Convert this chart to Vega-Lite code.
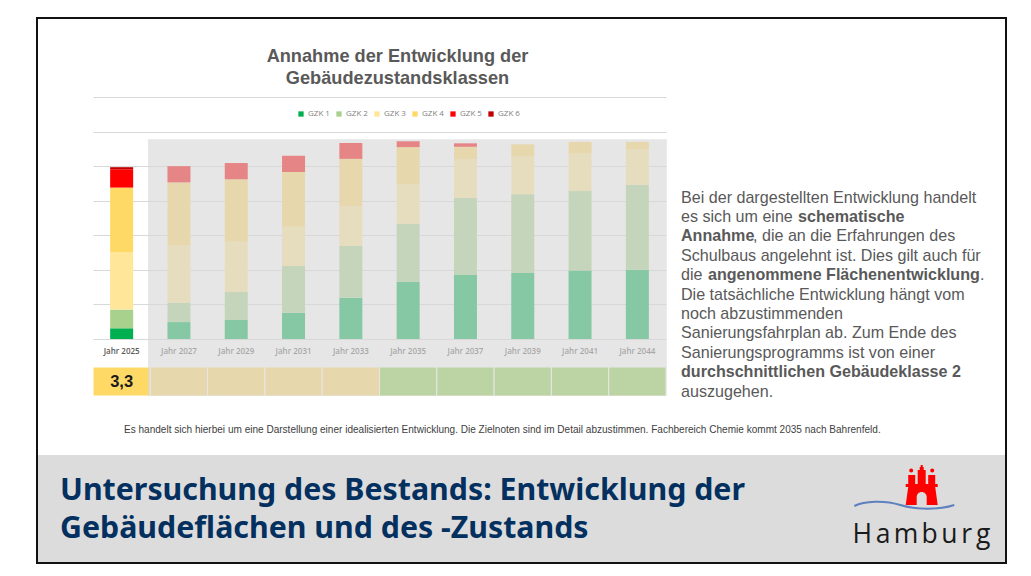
{
"$schema":"https://vega.github.io/schema/vega-lite/v6.json",
"autosize":{"type":"none"},
"padding":{"left":93,"top":97,"right":365,"bottom":237},
"width":573,"height":242,
"background":"white",
"config":{"view":{"stroke":null}},
"title":{"text":["Annahme der Entwicklung der","Gebäudezustandsklassen"],"font":"Liberation Sans","fontSize":18.2,"fontWeight":"bold","color":"#595959","anchor":"middle","dx":18,"offset":-71,"lineHeight":22},
"datasets":{
"bestand":[
{"jahr":"Jahr 2025","gzk":"GZK 1","flaeche":31},{"jahr":"Jahr 2025","gzk":"GZK 2","flaeche":54},{"jahr":"Jahr 2025","gzk":"GZK 3","flaeche":167},{"jahr":"Jahr 2025","gzk":"GZK 4","flaeche":186},{"jahr":"Jahr 2025","gzk":"GZK 5","flaeche":53},{"jahr":"Jahr 2025","gzk":"GZK 6","flaeche":6},
{"jahr":"Jahr 2027","gzk":"GZK 1","flaeche":49},{"jahr":"Jahr 2027","gzk":"GZK 2","flaeche":56},{"jahr":"Jahr 2027","gzk":"GZK 3","flaeche":167},{"jahr":"Jahr 2027","gzk":"GZK 4","flaeche":181},{"jahr":"Jahr 2027","gzk":"GZK 5","flaeche":47},
{"jahr":"Jahr 2029","gzk":"GZK 1","flaeche":55},{"jahr":"Jahr 2029","gzk":"GZK 2","flaeche":81},{"jahr":"Jahr 2029","gzk":"GZK 3","flaeche":145},{"jahr":"Jahr 2029","gzk":"GZK 4","flaeche":181},{"jahr":"Jahr 2029","gzk":"GZK 5","flaeche":47},
{"jahr":"Jahr 2031","gzk":"GZK 1","flaeche":76},{"jahr":"Jahr 2031","gzk":"GZK 2","flaeche":135},{"jahr":"Jahr 2031","gzk":"GZK 3","flaeche":114},{"jahr":"Jahr 2031","gzk":"GZK 4","flaeche":158},{"jahr":"Jahr 2031","gzk":"GZK 5","flaeche":47},
{"jahr":"Jahr 2033","gzk":"GZK 1","flaeche":119},{"jahr":"Jahr 2033","gzk":"GZK 2","flaeche":150},{"jahr":"Jahr 2033","gzk":"GZK 3","flaeche":114},{"jahr":"Jahr 2033","gzk":"GZK 4","flaeche":138},{"jahr":"Jahr 2033","gzk":"GZK 5","flaeche":46},
{"jahr":"Jahr 2035","gzk":"GZK 1","flaeche":165},{"jahr":"Jahr 2035","gzk":"GZK 2","flaeche":168},{"jahr":"Jahr 2035","gzk":"GZK 3","flaeche":115},{"jahr":"Jahr 2035","gzk":"GZK 4","flaeche":107},{"jahr":"Jahr 2035","gzk":"GZK 5","flaeche":17},
{"jahr":"Jahr 2037","gzk":"GZK 1","flaeche":185},{"jahr":"Jahr 2037","gzk":"GZK 2","flaeche":223},{"jahr":"Jahr 2037","gzk":"GZK 3","flaeche":112},{"jahr":"Jahr 2037","gzk":"GZK 4","flaeche":36},{"jahr":"Jahr 2037","gzk":"GZK 5","flaeche":10},
{"jahr":"Jahr 2039","gzk":"GZK 1","flaeche":191},{"jahr":"Jahr 2039","gzk":"GZK 2","flaeche":228},{"jahr":"Jahr 2039","gzk":"GZK 3","flaeche":110},{"jahr":"Jahr 2039","gzk":"GZK 4","flaeche":34},
{"jahr":"Jahr 2041","gzk":"GZK 1","flaeche":198},{"jahr":"Jahr 2041","gzk":"GZK 2","flaeche":230},{"jahr":"Jahr 2041","gzk":"GZK 3","flaeche":108},{"jahr":"Jahr 2041","gzk":"GZK 4","flaeche":34},
{"jahr":"Jahr 2044","gzk":"GZK 1","flaeche":200},{"jahr":"Jahr 2044","gzk":"GZK 2","flaeche":246},{"jahr":"Jahr 2044","gzk":"GZK 3","flaeche":103},{"jahr":"Jahr 2044","gzk":"GZK 4","flaeche":21}
],
"noten":[
{"jahr":"Jahr 2025","stufe":"Stufe 3","note":"3,3"},
{"jahr":"Jahr 2027","stufe":"Stufe 3"},{"jahr":"Jahr 2029","stufe":"Stufe 3"},{"jahr":"Jahr 2031","stufe":"Stufe 3"},{"jahr":"Jahr 2033","stufe":"Stufe 3"},
{"jahr":"Jahr 2035","stufe":"Stufe 2"},{"jahr":"Jahr 2037","stufe":"Stufe 2"},{"jahr":"Jahr 2039","stufe":"Stufe 2"},{"jahr":"Jahr 2041","stufe":"Stufe 2"},{"jahr":"Jahr 2044","stufe":"Stufe 2"}
],
"absatz":[
{"zeile":1,"teil":"a","text":"Bei der dargestellten Entwicklung handelt"},
{"zeile":2,"teil":"a","text":"es sich um eine"},
{"zeile":2,"teil":"b","text":"schematische"},
{"zeile":3,"teil":"f","text":"Annahme"},
{"zeile":3,"teil":"c","text":", die an die Erfahrungen des"},
{"zeile":4,"teil":"a","text":"Schulbaus angelehnt ist. Dies gilt auch für"},
{"zeile":5,"teil":"a","text":"die"},
{"zeile":5,"teil":"d","text":"angenommene Flächenentwicklung"},
{"zeile":5,"teil":"e","text":"."},
{"zeile":6,"teil":"a","text":"Die tatsächliche Entwicklung hängt vom"},
{"zeile":7,"teil":"a","text":"noch abzustimmenden"},
{"zeile":8,"teil":"a","text":"Sanierungsfahrplan ab. Zum Ende des"},
{"zeile":9,"teil":"a","text":"Sanierungsprogramms ist von einer"},
{"zeile":10,"teil":"f","text":"durchschnittlichen Gebäudeklasse 2"},
{"zeile":11,"teil":"a","text":"auszugehen."}
]
},
"resolve":{"scale":{"x":"independent","y":"independent"}},
"layer":[
{"layer":[
{"data":{"values":[{"teil":"Fussband"}]},"mark":{"type":"rect","fill":"#DCDCDC"},
"encoding":{"x":{"datum":38,"type":"quantitative","scale":{"domain":[0,1031],"range":[-93,938]},"axis":null},"x2":{"datum":1005},"y":{"datum":455,"type":"quantitative","scale":{"domain":[0,576],"range":[-97,479]},"axis":null},"y2":{"datum":562}}},
{"data":{"values":[{"teil":"Folie"}]},"mark":{"type":"rect","fillOpacity":0,"fill":"white","stroke":"#111111","strokeWidth":2},
"encoding":{"x":{"datum":37,"type":"quantitative","scale":{"domain":[0,1031],"range":[-93,938]},"axis":null},"x2":{"datum":1006},"y":{"datum":18,"type":"quantitative","scale":{"domain":[0,576],"range":[-97,479]},"axis":null},"y2":{"datum":563}}},
{"data":{"values":[{"text":"Es handelt sich hierbei um eine Darstellung einer idealisierten Entwicklung. Die Zielnoten sind im Detail abzustimmen. Fachbereich Chemie kommt 2035 nach Bahrenfeld."}]},
"mark":{"type":"text","font":"Liberation Sans","fontSize":10.05,"color":"#404040","align":"left","baseline":"middle"},
"encoding":{"text":{"field":"text"},"x":{"datum":124,"type":"quantitative","scale":{"domain":[0,1031],"range":[-93,938]},"axis":null},"y":{"datum":430,"type":"quantitative","scale":{"domain":[0,576],"range":[-97,479]},"axis":null}}},
{"data":{"values":[{"text":"Untersuchung des Bestands: Entwicklung der"}]},
"mark":{"type":"text","font":"Noto Sans","fontWeight":"bold","fontSize":30.3,"color":"#03305F","align":"left","baseline":"middle"},
"encoding":{"text":{"field":"text"},"x":{"datum":60,"type":"quantitative","scale":{"domain":[0,1031],"range":[-93,938]},"axis":null},"y":{"datum":490.5,"type":"quantitative","scale":{"domain":[0,576],"range":[-97,479]},"axis":null}}},
{"data":{"values":[{"text":"Gebäudeflächen und des -Zustands"}]},
"mark":{"type":"text","font":"Noto Sans","fontWeight":"bold","fontSize":30.3,"color":"#03305F","align":"left","baseline":"middle"},
"encoding":{"text":{"field":"text"},"x":{"datum":60,"type":"quantitative","scale":{"domain":[0,1031],"range":[-93,938]},"axis":null},"y":{"datum":528.5,"type":"quantitative","scale":{"domain":[0,576],"range":[-97,479]},"axis":null}}},
{"data":{"values":[{"teil":"Wappen"}]},
"mark":{"type":"point","filled":true,"opacity":1,"size":4,"color":"#FF0000","strokeWidth":0,"shape":"M-16-1H16V2H13.5L16 20H5V12A5 5 0 0 0-5 12V20H-16L-13.5 2H-16Z M-13.5-1V-10H-6.5V-1Z M6.5-1V-10H13.5V-1Z M-4-1V-15H-2V-18H-1V-20H1V-18H2V-15H4V-1Z M-12.5-14.5A2 2 0 1 0-8.5-14.5A2 2 0 1 0-12.5-14.5Z M8.5-14.5A2 2 0 1 0 12.5-14.5A2 2 0 1 0 8.5-14.5Z"},
"encoding":{"x":{"datum":921.7,"type":"quantitative","scale":{"domain":[0,1031],"range":[-93,938]},"axis":null},"y":{"datum":485,"type":"quantitative","scale":{"domain":[0,576],"range":[-97,479]},"axis":null}}},
{"data":{"values":[{"teil":"Welle"}]},
"mark":{"type":"point","filled":false,"opacity":1,"size":4,"stroke":"#5F80BE","strokeWidth":2,"shape":"M-50 1C-40-4-20-5-4 0S35 5 50 0"},
"encoding":{"x":{"datum":904.3,"type":"quantitative","scale":{"domain":[0,1031],"range":[-93,938]},"axis":null},"y":{"datum":505,"type":"quantitative","scale":{"domain":[0,576],"range":[-97,479]},"axis":null}}}
]},
{"data":{"values":[{"zeichen":"H","stelle":1},{"zeichen":"a","stelle":2},{"zeichen":"m","stelle":3},{"zeichen":"b","stelle":4},{"zeichen":"u","stelle":5},{"zeichen":"r","stelle":6},{"zeichen":"g","stelle":7}]},
"mark":{"type":"text","font":"Open Sans","fontSize":26.5,"color":"#1A1A1A","align":"center","baseline":"middle"},
"encoding":{"text":{"field":"zeichen"},"x":{"field":"stelle","type":"quantitative","scale":{"domain":[1,2,3,4,5,6,7],"range":[769.2,790.2,813,836.6,856.4,873.7,890.3]},"axis":null},"y":{"datum":535,"type":"quantitative","scale":{"domain":[0,576],"range":[-97,479]},"axis":null}}},
{"layer":[
{"data":{"name":"bestand"},"mark":{"type":"bar","size":23},
"encoding":{
"x":{"field":"jahr","type":"nominal","sort":null,"scale":{"domain":["Jahr 2025","Jahr 2027","Jahr 2029","Jahr 2031","Jahr 2033","Jahr 2035","Jahr 2037","Jahr 2039","Jahr 2041","Jahr 2044"],"paddingInner":0,"paddingOuter":0},
"axis":{"title":null,"domain":false,"ticks":false,"labelAngle":0,"labelFont":"Open Sans","labelFontSize":8,"labelFontWeight":600,"labelColor":"#595959","labelPadding":8,"grid":false}},
"y":{"field":"flaeche","type":"quantitative","stack":"zero","scale":{"domain":[0,700],"nice":false},
"axis":{"title":null,"domain":false,"ticks":false,"labels":false,"tickCount":8,"grid":true,"gridColor":"#D9D9D9","gridWidth":1}},
"color":{"field":"gzk","type":"nominal","scale":{"domain":["GZK 1","GZK 2","GZK 3","GZK 4","GZK 5","GZK 6"],"range":["#00B050","#A9D18E","#FFE699","#FFD966","#FF0000","#C00000"]},
"legend":{"title":null,"orient":"none","legendX":204,"legendY":13,"direction":"horizontal","columns":6,"symbolType":"square","symbolSize":28,"symbolStrokeWidth":0,"labelFont":"Open Sans","labelFontSize":8,"labelColor":"#7F7F7F","labelOffset":3,"columnPadding":5,"padding":0}},
"order":{"field":"gzk"}
}},
{"data":{"name":"noten"},"mark":{"type":"rect","stroke":"white","strokeWidth":1},
"encoding":{
"x":{"field":"jahr","type":"nominal","sort":null},
"y":{"datum":-81,"type":"quantitative"},"y2":{"datum":-165},
"fill":{"field":"stufe","type":"nominal","scale":{"domain":["Stufe 3","Stufe 2"],"range":["#FFD966","#92D050"]},"legend":null}
}},
{"data":{"values":[{"bereich":"Annahme"}]},"mark":{"type":"rect","fill":"#D6D6D6","fillOpacity":0.62,"xOffset":-31,"x2Offset":29.5},
"encoding":{
"x":{"datum":"Jahr 2027"},"x2":{"datum":"Jahr 2044"},
"y":{"datum":578,"type":"quantitative"},"y2":{"datum":-165}
}},
{"data":{"name":"noten"},"transform":[{"filter":"isValid(datum.note)"}],"mark":{"type":"text","font":"Liberation Sans","fontWeight":"bold","fontSize":16.5,"color":"#1A1A1A"},
"encoding":{"x":{"field":"jahr","type":"nominal","sort":null},"y":{"datum":-123,"type":"quantitative"},"text":{"field":"note"}}}
]},
{"data":{"name":"absatz"},"layer":[
{"transform":[{"filter":"datum.teil==='a'"}],"mark":{"type":"text","font":"Liberation Sans","fontSize":16.1,"color":"#595959","align":"left","baseline":"middle"},
"encoding":{"text":{"field":"text"},"x":{"datum":681,"type":"quantitative","scale":{"domain":[0,1031],"range":[-93,938]},"axis":null},"y":{"field":"zeile","type":"quantitative","scale":{"domain":[1,11],"range":[100.5,294.5]},"axis":null}}},
{"transform":[{"filter":"datum.teil==='f'"}],"mark":{"type":"text","font":"Liberation Sans","fontWeight":"bold","fontSize":16.1,"color":"#595959","align":"left","baseline":"middle"},
"encoding":{"text":{"field":"text"},"x":{"datum":681,"type":"quantitative","scale":{"domain":[0,1031],"range":[-93,938]},"axis":null},"y":{"field":"zeile","type":"quantitative","scale":{"domain":[1,11],"range":[100.5,294.5]},"axis":null}}},
{"transform":[{"filter":"datum.teil==='b'"}],"mark":{"type":"text","font":"Liberation Sans","fontWeight":"bold","fontSize":16.1,"color":"#595959","align":"left","baseline":"middle"},
"encoding":{"text":{"field":"text"},"x":{"datum":798,"type":"quantitative","scale":{"domain":[0,1031],"range":[-93,938]},"axis":null},"y":{"field":"zeile","type":"quantitative","scale":{"domain":[1,11],"range":[100.5,294.5]},"axis":null}}},
{"transform":[{"filter":"datum.teil==='c'"}],"mark":{"type":"text","font":"Liberation Sans","fontSize":16.1,"color":"#595959","align":"left","baseline":"middle"},
"encoding":{"text":{"field":"text"},"x":{"datum":753,"type":"quantitative","scale":{"domain":[0,1031],"range":[-93,938]},"axis":null},"y":{"field":"zeile","type":"quantitative","scale":{"domain":[1,11],"range":[100.5,294.5]},"axis":null}}},
{"transform":[{"filter":"datum.teil==='d'"}],"mark":{"type":"text","font":"Liberation Sans","fontWeight":"bold","fontSize":16.1,"color":"#595959","align":"left","baseline":"middle"},
"encoding":{"text":{"field":"text"},"x":{"datum":708,"type":"quantitative","scale":{"domain":[0,1031],"range":[-93,938]},"axis":null},"y":{"field":"zeile","type":"quantitative","scale":{"domain":[1,11],"range":[100.5,294.5]},"axis":null}}},
{"transform":[{"filter":"datum.teil==='e'"}],"mark":{"type":"text","font":"Liberation Sans","fontSize":16.1,"color":"#595959","align":"left","baseline":"middle"},
"encoding":{"text":{"field":"text"},"x":{"datum":980,"type":"quantitative","scale":{"domain":[0,1031],"range":[-93,938]},"axis":null},"y":{"field":"zeile","type":"quantitative","scale":{"domain":[1,11],"range":[100.5,294.5]},"axis":null}}}
]}
]
}
